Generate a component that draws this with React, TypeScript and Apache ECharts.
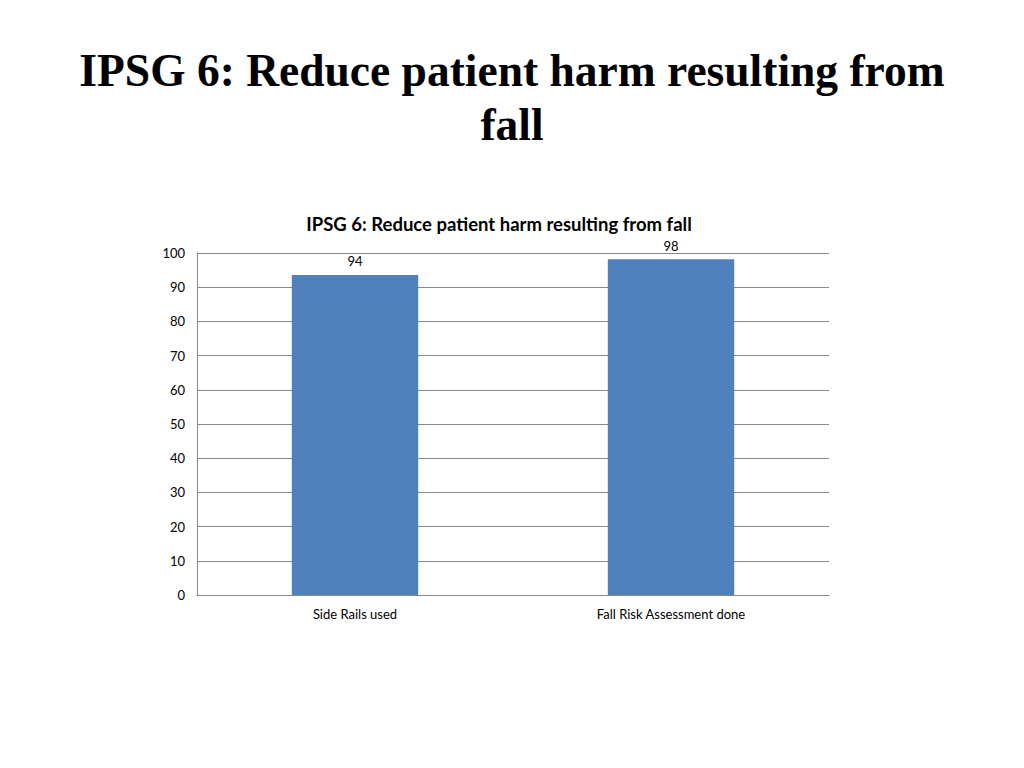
import React, { useEffect, useRef } from "react";
import * as echarts from "echarts";

const categories = ["Side Rails used", "Fall Risk Assessment done"];
const values = [93.6, 98.2];
const yTicks = { min: 0, max: 100, interval: 10 };

export default function App() {
  const ref = useRef<HTMLDivElement>(null);
  useEffect(() => {
    const chart = echarts.init(ref.current!, null, { renderer: "svg" });
    chart.setOption({
      animation: false,
      backgroundColor: "#ffffff",
      title: [
        {
          text: "IPSG 6: Reduce patient harm resulting from\nfall",
          left: "center",
          top: 38,
          textStyle: {
            fontFamily: "Liberation Serif",
            fontWeight: "bold",
            fontSize: 45.5,
            lineHeight: 54,
            color: "#000",
          },
        },
        {
          text: "IPSG 6: Reduce patient harm resulting from fall",
          left: 494,
          textAlign: "center",
          top: 209,
          textStyle: {
            fontFamily: "Lato",
            fontWeight: "bold",
            fontSize: 18.5,
            color: "#000",
          },
        },
      ],
      grid: { left: 197, right: 195, top: 253, bottom: 173, containLabel: false },
      xAxis: {
        type: "category",
        data: categories,
        axisLine: { lineStyle: { color: "#888" } },
        axisTick: { show: false },
        axisLabel: { color: "#000", fontSize: 13, fontFamily: "Lato", margin: 12 },
      },
      yAxis: {
        type: "value",
        min: yTicks.min,
        max: yTicks.max,
        interval: yTicks.interval,
        axisLine: { show: true, lineStyle: { color: "#888" } },
        axisTick: { show: false },
        axisLabel: { color: "#000", fontSize: 13, fontFamily: "Lato", margin: 12 },
        splitLine: { lineStyle: { color: "#888" } },
      },
      series: [
        {
          type: "bar",
          data: values,
          barWidth: "40%",
          itemStyle: { color: "#4F81BD" },
          label: {
            show: true,
            position: "top",
            color: "#000",
            fontSize: 13,
            fontFamily: "Lato",
            distance: 7,
            formatter: (p: any) => String(Math.round(p.value)),
          },
        },
      ],
    });
    return () => chart.dispose();
  }, []);
  return (
    <div
      ref={ref}
      style={{ position: "fixed", left: 0, top: 0, width: 1024, height: 768 }}
    />
  );
}
